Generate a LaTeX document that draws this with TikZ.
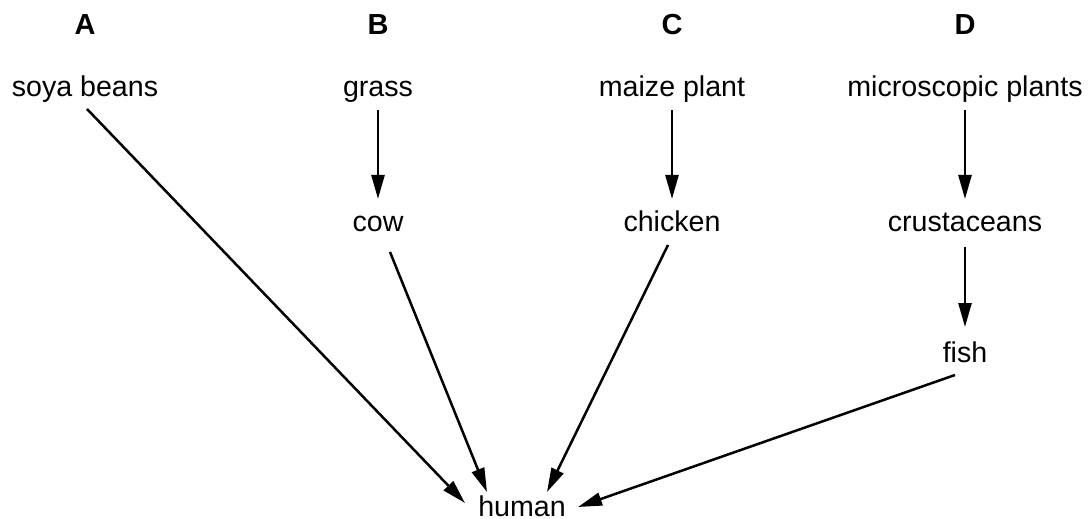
\documentclass[tikz,border=0pt]{standalone}
\usepackage{fontspec}
\setmainfont{Liberation Sans}
\usepackage{tikz}
\usetikzlibrary{arrows.meta,calc,positioning}
\tikzstyle{arrow} = [line width=1.25pt,-{Triangle[length=12pt,width=6.5pt]}]

\begin{document}
\begin{tikzpicture}[
        x=0.5pt, y=-0.5pt,
        every node/.style={font=\fontsize{14.3}{17}\selectfont, inner sep=0pt, outer sep=0pt, anchor=base},
        chainlabel/.style={font=\fontsize{14.5}{17}\selectfont\bfseries}
        ]
        \useasboundingbox (0,0) rectangle (1088,519);
        % chain letters
        \node[chainlabel] (labA) at (85,35) {A};
        \node[chainlabel] (labB) at (378,35) {B};
        \node[chainlabel] (labC) at (672,35) {C};
        \node[chainlabel] (labD) at (965,35) {D};
        % producers
        \node (soya) at (85,97) {soya beans};
        \node (grass) at (378,97) {grass};
        \node (maize) at (672,97) {maize plant};
        \node (plants) at (965,97) {microscopic plants};
        % consumers
        \node (cow) at (378,232) {cow};
        \node (chicken) at (672,232) {chicken};
        \node (crust) at (965,232) {crustaceans};
        \node (fish) at (965,362) {fish};
        \node (human) at (522,516) {human};

        \draw[arrow] ($(grass.base)+(0,13)$) -- ($(cow.base)+(0,-33)$);
        \draw[arrow] ($(maize.base)+(0,13)$) -- ($(chicken.base)+(0,-33)$);
        \draw[arrow] ($(plants.base)+(0,13)$) -- ($(crust.base)+(0,-33)$);
        \draw[arrow] ($(crust.base)+(0,15)$) -- ($(fish.base)+(0,-35)$);

        \draw[arrow] ($(soya.base)+(2,12)$) -- ($(human.base)+(-57,-13)$);
        \draw[arrow] ($(cow.base)+(12,20)$) -- ($(human.base)+(-35,-24)$);
        \draw[arrow] ($(chicken.base)+(-4,13)$) -- ($(human.base)+(25,-24)$);
        \draw[arrow] ($(fish.base)+(-10,13)$) -- ($(human.base)+(56,-9)$);
\end{tikzpicture}
\end{document}
